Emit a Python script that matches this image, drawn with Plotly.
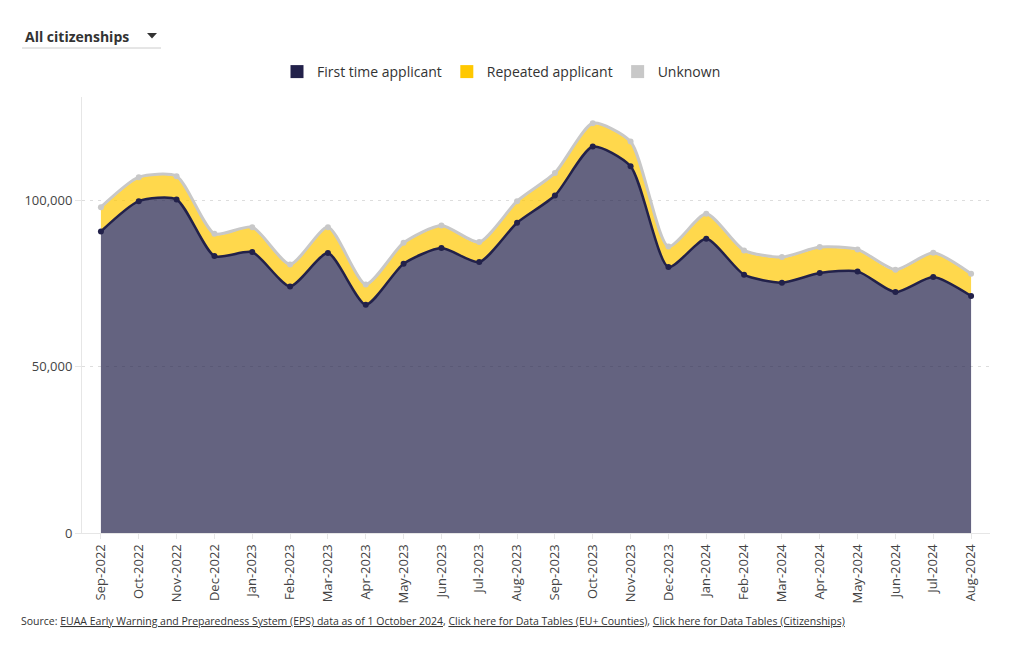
import plotly.graph_objects as go

months = ["Sep-2022", "Oct-2022", "Nov-2022", "Dec-2022", "Jan-2023", "Feb-2023",
          "Mar-2023", "Apr-2023", "May-2023", "Jun-2023", "Jul-2023", "Aug-2023",
          "Sep-2023", "Oct-2023", "Nov-2023", "Dec-2023", "Jan-2024", "Feb-2024",
          "Mar-2024", "Apr-2024", "May-2024", "Jun-2024", "Jul-2024", "Aug-2024"]

first_time = [90600, 99700, 100200, 83200, 84400, 74100, 84100, 68600, 80900, 85600,
              81400, 93200, 101400, 116100, 110200, 79900, 88400, 77600, 75200, 78100,
              78600, 72400, 76900, 71200]

repeated = [7000, 6900, 6700, 6400, 7200, 6300, 7500, 5800, 6000, 6500,
            5700, 6200, 6500, 6700, 7100, 5900, 7200, 7000, 7400, 7500,
            6300, 6400, 7000, 6400]

unknown = [300, 300, 300, 300, 300, 300, 300, 300, 300, 300,
           300, 300, 300, 300, 300, 300, 300, 300, 300, 300,
           300, 300, 300, 300]

y_ticks = [0, 50000, 100000]
y_tick_labels = ["0", "50,000", "100,000"]

NAVY = "#22214a"
YELLOW = "#ffc800"
GREY = "#c8c8c8"
FONT = "Open Sans"
SMOOTH = 0.65

# plot area geometry (px)
L, T, W, H = 82, 97, 908, 436


def px_x(x):
    return (x - L) / W


def px_y(y):
    return 1 + (T - y) / H


fig = go.Figure()

fig.add_trace(go.Scatter(
    x=months, y=first_time, stackgroup="s", mode="lines+markers",
    line=dict(color=NAVY, width=2.5, shape="spline", smoothing=SMOOTH),
    marker=dict(color=NAVY, size=6),
    fillcolor="rgba(34,33,74,0.7)", showlegend=False, name="First time applicant"))
fig.add_trace(go.Scatter(
    x=months, y=repeated, stackgroup="s", mode="lines",
    line=dict(color="rgba(255,200,0,0.7)", width=0, shape="spline", smoothing=SMOOTH),
    fillcolor="rgba(255,200,0,0.7)", showlegend=False, name="Repeated applicant"))
fig.add_trace(go.Scatter(
    x=months, y=unknown, stackgroup="s", mode="lines+markers",
    line=dict(color=GREY, width=3, shape="spline", smoothing=SMOOTH),
    marker=dict(color=GREY, size=6),
    fillcolor="rgba(200,200,200,0.7)", showlegend=False, name="Unknown"))

for name, col in [("First time applicant", NAVY), ("Repeated applicant", YELLOW), ("Unknown", GREY)]:
    fig.add_trace(go.Scatter(x=[None], y=[None], mode="markers", name=name,
                             marker=dict(symbol="square", size=13, color=col)))

fig.update_layout(
    width=1020, height=650,
    margin=dict(l=L, r=1020 - L - W, t=T, b=650 - T - H),
    paper_bgcolor="white", plot_bgcolor="white",
    font=dict(family=FONT, color="#444", size=13),
    legend=dict(orientation="h", traceorder="normal",
                x=px_x(277), xanchor="left", y=px_y(72), yanchor="middle",
                font=dict(size=14, color="#333"), itemwidth=30,
                bgcolor="rgba(0,0,0,0)"),
    showlegend=True,
)

fig.update_xaxes(
    type="category", range=[-0.5, len(months) - 0.5], tickangle=-90,
    showgrid=False, showline=True, linecolor="#e6e6e6", linewidth=1,
    ticks="outside", ticklen=5, tickcolor="#e6e6e6",
    tickfont=dict(size=13, color="#444"), zeroline=False)
fig.update_yaxes(
    range=[0, 131000], tickvals=y_ticks, ticktext=y_tick_labels,
    showgrid=True, gridcolor="#dddddd", griddash="3px,5px", gridwidth=1,
    showline=True, linecolor="#e6e6e6", linewidth=1,
    ticks="outside", ticklen=6, tickcolor="#e6e6e6",
    tickfont=dict(size=13, color="#444"), zeroline=False)

fig.add_annotation(text="<b>All citizenships</b>", xref="paper", yref="paper",
                   x=px_x(23), y=px_y(36), xanchor="left", yanchor="middle",
                   showarrow=False, font=dict(size=14, color="#333", family=FONT))
tri = "M {} {} L {} {} L {} {} Z".format(px_x(147), px_y(33), px_x(157), px_y(33), px_x(152), px_y(38.5))
fig.add_shape(type="path", xref="paper", yref="paper", path=tri,
              fillcolor="#333", line=dict(width=0))
fig.add_shape(type="line", xref="paper", yref="paper",
              x0=px_x(22), x1=px_x(161), y0=px_y(48), y1=px_y(48),
              line=dict(color="#cccccc", width=1))

u = '<span style="text-decoration:underline">{}</span>'
src = ("Source: " + u.format("EUAA Early Warning and Preparedness System (EPS) data as of 1 October 2024")
       + ", " + u.format("Click here for Data Tables (EU+ Counties)")
       + ", " + u.format("Click here for Data Tables (Citizenships)"))
fig.add_annotation(text=src, xref="paper", yref="paper",
                   x=px_x(19), y=px_y(621), xanchor="left", yanchor="middle",
                   showarrow=False, font=dict(size=10.5, color="#333", family=FONT))

fig.write_html("out.html", config={"displayModeBar": False},
               post_script="document.body.style.margin='0px';")
